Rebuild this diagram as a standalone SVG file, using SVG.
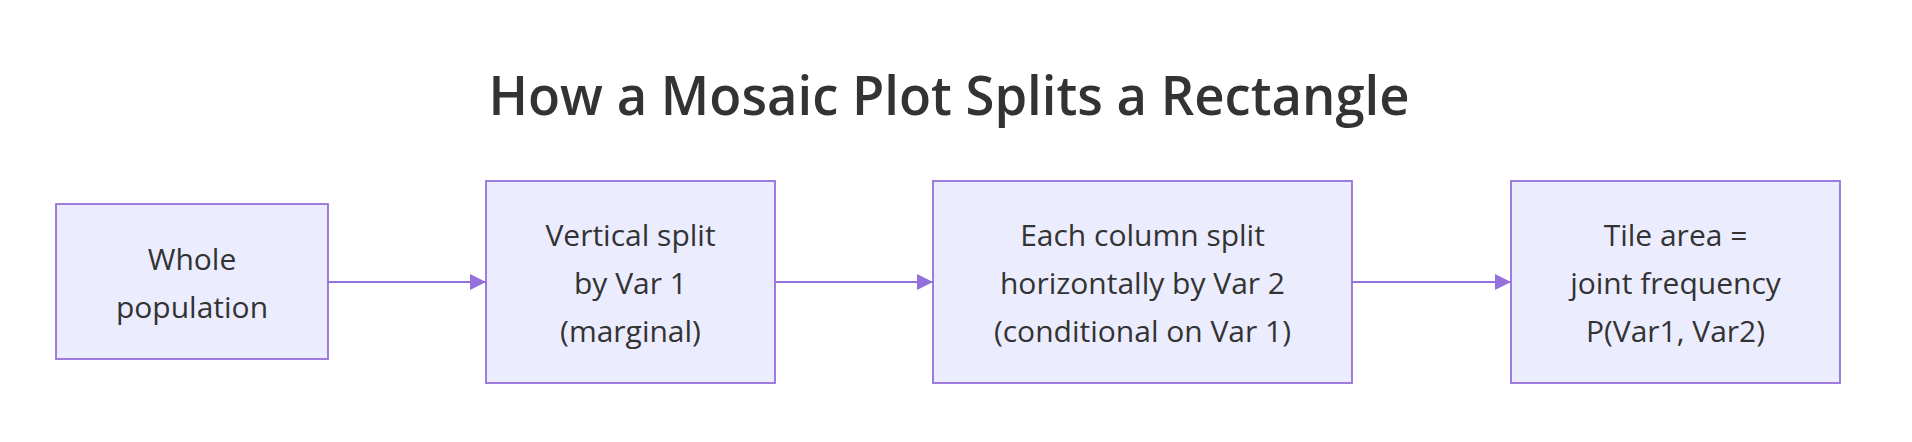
<svg xmlns="http://www.w3.org/2000/svg" width="1912" height="442" viewBox="0 0 1912 442">
<style>
.node rect{fill:#ECECFF;stroke:#9370DB;stroke-width:1.8}
.node text{font-family:"Open Sans","Noto Sans",sans-serif;font-size:30px;fill:#333333;text-anchor:middle}
.title{font-family:"Open Sans","Noto Sans",sans-serif;font-size:54px;font-weight:600;fill:#333333;text-anchor:middle}
.edge{stroke:#9370DB;stroke-width:2;fill:none}
</style>
<defs>
<marker id="arrow" viewBox="0 0 16 16" refX="16" refY="8" markerWidth="16" markerHeight="16" markerUnits="userSpaceOnUse" orient="auto">
<path d="M0,0 L16,8 L0,16 z" fill="#9370DB"/>
</marker>
</defs>
<rect width="1912" height="442" fill="#FFFFFF"/>
<text class="title" x="949" y="115" textLength="921" lengthAdjust="spacingAndGlyphs">How a Mosaic Plot Splits a Rectangle</text>
<g id="connectors">
<path class="edge" d="M328,282 L486,282" marker-end="url(#arrow)"/>
<path class="edge" d="M775,282 L933,282" marker-end="url(#arrow)"/>
<path class="edge" d="M1352,282 L1511,282" marker-end="url(#arrow)"/>
</g>
<g id="node-whole" class="node">
<rect x="56" y="204" width="272" height="155"/>
<text x="192" y="270">Whole</text>
<text x="192" y="318">population</text>
</g>
<g id="node-vertical" class="node">
<rect x="486" y="181" width="289" height="202"/>
<text x="630.5" y="246">Vertical split</text>
<text x="630.5" y="294">by Var 1</text>
<text x="630.5" y="342">(marginal)</text>
</g>
<g id="node-horizontal" class="node">
<rect x="933" y="181" width="419" height="202"/>
<text x="1142.5" y="246">Each column split</text>
<text x="1142.5" y="294">horizontally by Var 2</text>
<text x="1142.5" y="342">(conditional on Var 1)</text>
</g>
<g id="node-tile" class="node">
<rect x="1511" y="181" width="329" height="202"/>
<text x="1675.5" y="246">Tile area =</text>
<text x="1675.5" y="294">joint frequency</text>
<text x="1675.5" y="342">P(Var1, Var2)</text>
</g>
</svg>
